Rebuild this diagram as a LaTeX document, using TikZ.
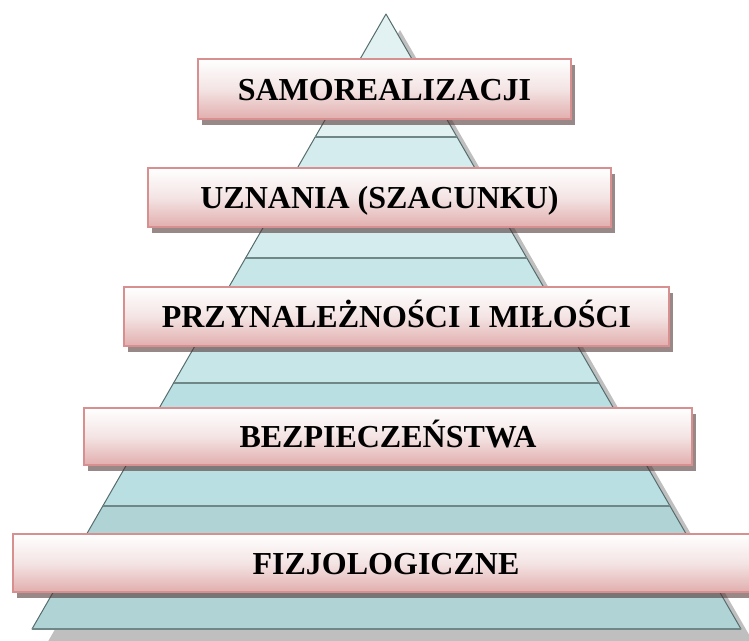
\documentclass[tikz,border=0pt]{standalone}
\usepackage{fontspec}
\setmainfont{Liberation Serif}
\usetikzlibrary{shadows}
\definecolor{lvA}{HTML}{E2F2F2}
\definecolor{lvB}{HTML}{D4ECED}
\definecolor{lvC}{HTML}{C7E6E8}
\definecolor{lvD}{HTML}{B9DFE2}
\definecolor{lvE}{HTML}{B0D4D6}
\definecolor{pyrline}{HTML}{566C6C}
\definecolor{sepline}{HTML}{6F8787}
\definecolor{pyrshadow}{HTML}{BFBFBF}
\definecolor{boxline}{HTML}{D78F8F}
\definecolor{boxbot}{HTML}{E2AEAE}
\definecolor{boxmid}{HTML}{F4E4E4}
\definecolor{boxshadow}{HTML}{503232}
\begin{document}
\begin{tikzpicture}[x=1pt,y=-1pt,
  lvl/.style={draw=pyrline, line width=1pt, line join=round},
  sep/.style={draw=sepline, line width=2pt},
  lab/.style={rectangle, draw=boxline, line width=2.2pt,
    top color=white, bottom color=boxbot, middle color=boxmid,
    font=\fontsize{32}{38}\selectfont\bfseries,
    text height=22pt, text depth=0pt, inner sep=0pt,
    drop shadow={shadow xshift=4pt, shadow yshift=-6pt, fill=boxshadow, opacity=0.58}}]
\useasboundingbox (0,0) rectangle (749,640);
% pyramid shadow
\fill[pyrshadow] (400,30) -- (46,645) -- (755,645) -- cycle;
% levels
\path[lvl, fill=lvA] (386,14) -- (315.2,137) -- (457.0,137) -- cycle;
\path[lvl, fill=lvB] (315.2,137) -- (245.6,258) -- (526.8,258) -- (457.0,137) -- cycle;
\path[lvl, fill=lvC] (245.6,258) -- (173.6,383) -- (599.0,383) -- (526.8,258) -- cycle;
\path[lvl, fill=lvD] (173.6,383) -- (102.8,506) -- (670.0,506) -- (599.0,383) -- cycle;
\path[lvl, fill=lvE] (102.8,506) -- (32,629) -- (741,629) -- (670.0,506) -- cycle;
% separators
\draw[sep] (315.2,137) -- (457.0,137);
\draw[sep] (245.6,258) -- (526.8,258);
\draw[sep] (173.6,383) -- (599.0,383);
\draw[sep] (102.8,506) -- (670.0,506);
\draw[sep] (32,629) -- (741,629);
% labels
\node[lab, minimum width=373pt, minimum height=60pt] (samo) at (384.5,89) {SAMOREALIZACJI};
\node[lab, minimum width=463pt, minimum height=59pt] (uzn) at (379.5,197.5) {UZNANIA (SZACUNKU)};
\node[lab, minimum width=545pt, minimum height=59pt] (prz) at (396.5,316.5) {PRZYNALEŻNOŚCI I MIŁOŚCI};
\node[lab, minimum width=608pt, minimum height=57pt] (bez) at (388,436.5) {BEZPIECZEŃSTWA};
\node[lab, minimum width=746pt, minimum height=58pt] (fiz) at (386,563) {FIZJOLOGICZNE};
\end{tikzpicture}
\end{document}
